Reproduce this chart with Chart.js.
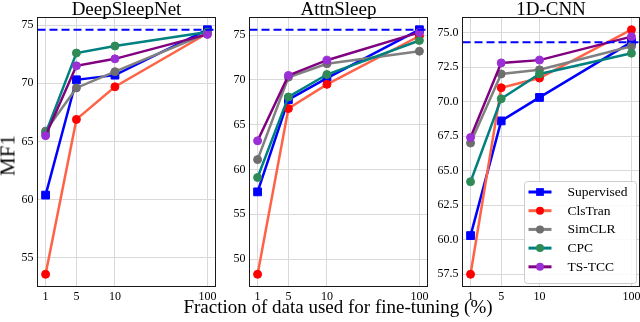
<!DOCTYPE html>
<html>
<head>
<meta charset="utf-8">
<script src="https://cdn.jsdelivr.net/npm/chart.js@4.4.0/dist/chart.umd.min.js"></script>
<style>
  body { margin: 0; background: #fff; }
  #wrap { position: relative; width: 640px; height: 322px; font-family: 'Liberation Serif', 'Times New Roman', serif; color: #000; }
  #wrap canvas { position: absolute; left: 0; top: 0; }
  .title { position: absolute; width: 200px; text-align: center; font-size: 19px; line-height: 19px; white-space: nowrap; }
  .xlabel { position: absolute; left: 138px; width: 400px; top: 297px; text-align: center; font-size: 19px; line-height: 19px; white-space: nowrap; }
  .ylabel { position: absolute; left: -22px; top: 145px; width: 60px; text-align: center; font-size: 21px; line-height: 21px; transform: rotate(-90deg); }
</style>
</head>
<body>
<div id="wrap">
  <canvas id="c0" width="640" height="322"></canvas>
  <canvas id="c1" width="640" height="322"></canvas>
  <canvas id="c2" width="640" height="322"></canvas>
  <div class="ylabel">MF1</div>
  <div class="xlabel">Fraction of data used for fine-tuning (%)</div>
</div>
<script>
// x categories and where the original figure put them on its axis
const fractions = ['1', '5', '10', '100'];
const xSlots = [1, 5, 10, 22];
const methods = ['Supervised', 'ClsTran', 'SimCLR', 'CPC', 'TS-TCC'];

// DeepSleepNet
const dsnSupervised = [60.4, 70.3, 70.7, 74.6];
const dsnClsTran = [53.6, 66.9, 69.7, 74.3];
const dsnSimCLR = [65.9, 69.6, 71.0, 74.3];
const dsnCPC = [65.7, 72.6, 73.2, 74.4];
const dsnTSTCC = [65.5, 71.5, 72.1, 74.2];
const dsnTicks = [55, 60, 65, 70, 75];

// AttnSleep
const attnSupervised = [57.5, 67.8, 70.2, 75.6];
const attnClsTran = [48.3, 66.8, 69.5, 74.9];
const attnSimCLR = [61.1, 70.3, 71.8, 73.2];
const attnCPC = [59.1, 68.1, 70.6, 74.4];
const attnTSTCC = [63.2, 70.5, 72.2, 75.3];
const attnTicks = [50, 55, 60, 65, 70, 75];

// 1D-CNN
const cnnSupervised = [60.3, 68.6, 70.3, 74.3];
const cnnClsTran = [57.5, 71.0, 71.7, 75.2];
const cnnSimCLR = [67.0, 72.0, 72.3, 74.0];
const cnnCPC = [64.2, 70.2, 72.0, 73.5];
const cnnTSTCC = [67.4, 72.8, 73.0, 74.7];
const cnnTicks = [57.5, 60, 62.5, 65, 67.5, 70, 72.5, 75];

const lineColors = ['#0000ff', '#ff6347', '#808080', '#008080', '#800080'];
const markerColors = ['#0000ff', '#ff0000', '#6e6e6e', '#2e8b57', '#9a2fd6'];
const markerShapes = ['rect', 'circle', 'circle', 'circle', 'circle'];

const FONT = "'Liberation Serif', 'Times New Roman', serif";
const PLOT_TOP = 17.5, PLOT_BOTTOM = 286.5, YAXIS_W = 30, XAXIS_H = 20;

const panels = [
    { id: 'c0', title: 'DeepSleepNet', series: [dsnSupervised, dsnClsTran, dsnSimCLR, dsnCPC, dsnTSTCC], ticks: dsnTicks, decimals: 0, left: 37.5, right: 215.5 },
    { id: 'c1', title: 'AttnSleep', series: [attnSupervised, attnClsTran, attnSimCLR, attnCPC, attnTSTCC], ticks: attnTicks, decimals: 0, left: 249.5, right: 427.5 },
    { id: 'c2', title: '1D-CNN', series: [cnnSupervised, cnnClsTran, cnnSimCLR, cnnCPC, cnnTSTCC], ticks: cnnTicks, decimals: 1, left: 462.5, right: 639.5, legend: true }
];

// matplotlib-style autoscale: 5% margin on each side
function paddedRange(values) {
    const lo = Math.min(...values), hi = Math.max(...values);
    const pad = (hi - lo) * 0.05;
    return [lo - pad, hi + pad];
}

// dashed line at the fully supervised result
const refLine = {
    id: 'refLine',
    afterDatasetsDraw(chart, args, opts) {
        const { ctx, chartArea } = chart;
        const y = chart.scales.y.getPixelForValue(opts.value);
        ctx.save();
        ctx.strokeStyle = '#0000ff';
        ctx.lineWidth = 2;
        ctx.setLineDash([8, 4]);
        ctx.beginPath();
        ctx.moveTo(chartArea.left, y);
        ctx.lineTo(chartArea.right, y);
        ctx.stroke();
        ctx.restore();
    }
};

const frame = {
    id: 'frame',
    afterDraw(chart) {
        const { ctx, chartArea: a } = chart;
        ctx.save();
        ctx.strokeStyle = '#1a1a1a';
        ctx.lineWidth = 1;
        ctx.strokeRect(a.left, a.top, a.right - a.left, a.bottom - a.top);
        ctx.restore();
    }
};

function drawMarker(ctx, shape, x, y, r) {
    ctx.beginPath();
    if (shape === 'rect') {
        const s = r * Math.SQRT1_2;
        ctx.rect(x - s, y - s, 2 * s, 2 * s);
    } else {
        ctx.arc(x, y, r, 0, Math.PI * 2);
    }
    ctx.fill();
}

// legend box inside the last panel
const boxLegend = {
    id: 'boxLegend',
    afterDraw(chart, args, opts) {
        if (!opts.show) return;
        const { ctx, chartArea: a } = chart;
        const x0 = a.right - 115, y0 = a.bottom - 105, w = 112, h = 102;
        ctx.save();
        ctx.fillStyle = 'rgba(255,255,255,0.85)';
        ctx.strokeStyle = '#cccccc';
        ctx.lineWidth = 1;
        ctx.beginPath();
        ctx.roundRect(x0, y0, w, h, 3);
        ctx.fill();
        ctx.stroke();
        ctx.font = '13.5px ' + FONT;
        ctx.textBaseline = 'middle';
        chart.data.datasets.forEach((ds, i) => {
            const y = y0 + 10.5 + i * 18.7;
            ctx.strokeStyle = ds.borderColor;
            ctx.lineWidth = 3;
            ctx.beginPath();
            ctx.moveTo(x0 + 4, y);
            ctx.lineTo(x0 + 27, y);
            ctx.stroke();
            ctx.fillStyle = ds.pointBackgroundColor;
            drawMarker(ctx, ds.pointStyle, x0 + 15.5, y, ds.pointRadius);
            ctx.fillStyle = '#000';
            ctx.fillText(ds.label, x0 + 43, y + 0.5);
        });
        ctx.restore();
    }
};

const xRange = paddedRange(xSlots);

panels.forEach(p => {
    const yRange = paddedRange(p.series.flat());

    const t = document.createElement('div');
    t.className = 'title';
    t.textContent = p.title;
    t.style.left = ((p.left + p.right) / 2 - 100) + 'px';
    t.style.top = '-1px';
    document.getElementById('wrap').appendChild(t);

    const gridOpts = { color: '#d9d9d9', lineWidth: 1, drawTicks: false };
    const tickFont = { family: FONT, size: 12 };

    new Chart(document.getElementById(p.id), {
        type: 'line',
        data: {
            datasets: p.series.map((vals, i) => ({
                label: methods[i],
                data: vals.map((v, j) => ({ x: xSlots[j], y: v })),
                borderColor: lineColors[i],
                backgroundColor: markerColors[i],
                pointBackgroundColor: markerColors[i],
                pointBorderColor: markerColors[i],
                pointBorderWidth: 1,
                pointStyle: markerShapes[i],
                pointRadius: markerShapes[i] === 'rect' ? 5.5 : 4,
                borderWidth: 2.5,
                tension: 0,
                clip: false,
                order: methods.length - i
            }))
        },
        options: {
            responsive: false,
            animation: false,
            events: [],
            layout: {
                autoPadding: false,
                padding: {
                    left: p.left - YAXIS_W,
                    right: 640 - p.right,
                    top: PLOT_TOP,
                    bottom: 322 - PLOT_BOTTOM - XAXIS_H
                }
            },
            plugins: {
                legend: { display: false },
                tooltip: { enabled: false },
                refLine: { value: p.series[0][3] },
                boxLegend: { show: !!p.legend }
            },
            scales: {
                x: {
                    type: 'linear',
                    min: xRange[0],
                    max: xRange[1],
                    afterBuildTicks: s => { s.ticks = xSlots.map(v => ({ value: v })); },
                    afterFit: s => { s.height = XAXIS_H; s.paddingLeft = 0; s.paddingRight = 0; },
                    grid: gridOpts,
                    border: { display: false },
                    ticks: {
                        padding: 3,
                        color: '#000',
                        font: tickFont,
                        maxRotation: 0,
                        autoSkip: false,
                        callback: v => fractions[xSlots.indexOf(v)]
                    }
                },
                y: {
                    type: 'linear',
                    min: yRange[0],
                    max: yRange[1],
                    afterBuildTicks: s => { s.ticks = p.ticks.map(v => ({ value: v })); },
                    afterFit: s => { s.width = YAXIS_W; s.paddingTop = 0; s.paddingBottom = 0; },
                    grid: gridOpts,
                    border: { display: false },
                    ticks: {
                        padding: 4,
                        color: '#000',
                        font: tickFont,
                        autoSkip: false,
                        callback: v => v.toFixed(p.decimals)
                    }
                }
            }
        },
        plugins: [refLine, frame, boxLegend]
    });
});
</script>
</body>
</html>
